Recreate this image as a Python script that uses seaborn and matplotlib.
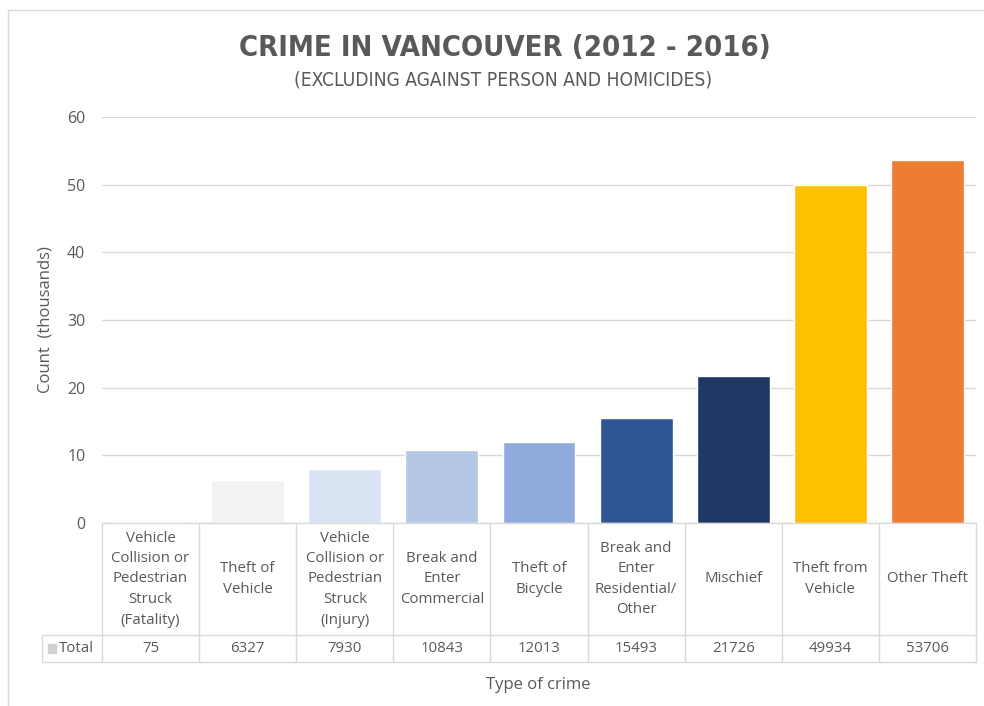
import matplotlib
matplotlib.use("Agg")
import matplotlib.pyplot as plt
import seaborn as sns
import pandas as pd
from matplotlib.patches import Rectangle
from matplotlib.lines import Line2D

categories = [
    "Vehicle\nCollision or\nPedestrian\nStruck\n(Fatality)",
    "Theft of\nVehicle",
    "Vehicle\nCollision or\nPedestrian\nStruck\n(Injury)",
    "Break and\nEnter\nCommercial",
    "Theft of\nBicycle",
    "Break and\nEnter\nResidential/\nOther",
    "Mischief",
    "Theft from\nVehicle",
    "Other Theft",
]
totals = [75, 6327, 7930, 10843, 12013, 15493, 21726, 49934, 53706]
colors = ["#f2f2f2", "#f2f2f2", "#dae3f3", "#b4c7e7", "#8faadc",
          "#2f5597", "#1f3864", "#ffc000", "#ed7d31"]
yticks = [0, 10, 20, 30, 40, 50, 60]

sns.set_theme(style="white")
plt.rcParams["font.family"] = ["Open Sans", "DejaVu Sans"]
TXT = "#595959"
GRID = "#d9d9d9"

W, H = 984, 706
fig = plt.figure(figsize=(W / 100, H / 100), dpi=100)

def fx(px):
    return px / W

def fy(py):
    return 1 - py / H

left, right, top, bottom = 102, 976, 117, 523
ax = fig.add_axes([fx(left), fy(bottom), fx(right - left), (bottom - top) / H])

df = pd.DataFrame({"cat": categories, "val": [v / 1000 for v in totals]})
sns.barplot(data=df, x="cat", y="val", hue="cat", palette=colors, legend=False,
            width=0.75, ax=ax, saturation=1)

ax.set_xlim(-0.5, len(categories) - 0.5)
ax.set_ylim(0, 60)
ax.set_yticks(yticks)
ax.set_yticklabels([str(t) for t in yticks], color=TXT, fontsize=11.5)
ax.tick_params(axis="y", length=0, pad=12)
ax.set_xticks([])
ax.set_xlabel("")
ax.set_ylabel("Count  (thousands)", color=TXT, fontsize=12, labelpad=10)
for s in ax.spines.values():
    s.set_visible(False)
ax.yaxis.grid(True, color=GRID, linewidth=1)
ax.set_axisbelow(True)

# data table below the axis
tr = ax.get_xaxis_transform()
axh = bottom - top
row1 = -(635 - bottom) / axh
row2 = -(662 - bottom) / axh
n = len(categories)
xl = -0.5 - (left - 42) / ((right - left) / n)

def ln(xs, ys):
    ax.add_line(Line2D(xs, ys, transform=tr, color=GRID, lw=1, clip_on=False))

ln([-0.5, n - 0.5], [0, 0])
ln([xl, n - 0.5], [row1, row1])
ln([xl, n - 0.5], [row2, row2])
for i in range(n + 1):
    ln([i - 0.5, i - 0.5], [0, row2])
ln([xl, xl], [row1, row2])

for i, (c, v) in enumerate(zip(categories, totals)):
    ax.text(i, row1 / 2, c, transform=tr, ha="center", va="center",
            fontsize=10.8, color=TXT, linespacing=1.5)
    ax.text(i, (row1 + row2) / 2, str(v), transform=tr, ha="center",
            va="center", fontsize=10.8, color=TXT)

ax.add_patch(Rectangle((xl + 0.06, (row1 + row2) / 2 - 0.011), 0.08, 0.022,
                       transform=tr, color="#d0d0d0", clip_on=False))
ax.text(xl + 0.17, (row1 + row2) / 2, "Total", transform=tr, ha="left",
        va="center", fontsize=10.8, color=TXT)

# titles
fig.text(fx(505), fy(48), "CRIME IN VANCOUVER (2012 - 2016)",
         ha="center", va="center", fontsize=21, fontweight="bold", color=TXT,
         family=["DejaVu Sans"], fontstretch="condensed")
fig.text(fx(503), fy(80), "(EXCLUDING AGAINST PERSON AND HOMICIDES)",
         ha="center", va="center", fontsize=13.8, color=TXT,
         family=["DejaVu Sans"], fontstretch="condensed")
fig.text(fx(538), fy(685), "Type of crime", ha="center", va="center",
         fontsize=12, color=TXT)

# chart area border
fig.add_artist(Line2D([fx(8), fx(8)], [fy(10), 0], color=GRID, lw=1))
fig.add_artist(Line2D([fx(8), 1], [fy(10), fy(10)], color=GRID, lw=1))

fig.savefig("out.png", dpi=100, facecolor="white")
